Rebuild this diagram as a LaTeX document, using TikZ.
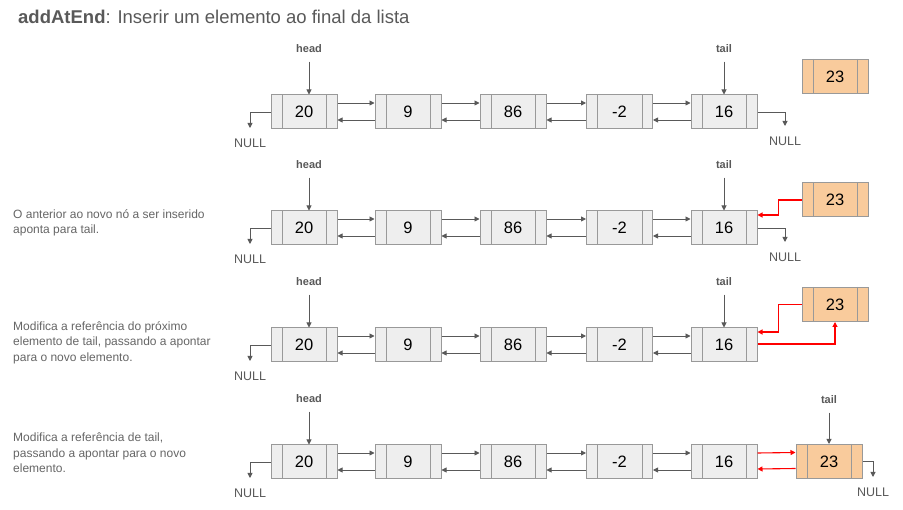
\documentclass[tikz,border=0pt]{standalone}
\usepackage{fontspec}
\setmainfont{Liberation Sans}
\usetikzlibrary{arrows.meta}
\definecolor{lg}{HTML}{EEEEEE}
\definecolor{bd}{HTML}{999999}
\definecolor{ar}{HTML}{595959}
\definecolor{org}{HTML}{F9CB9C}
\definecolor{tx}{HTML}{666666}
\newcommand\cellnode[5]{%
  \node[#5] (#1) at (#2,#3) {#4};
  \draw[divider] ([xshift=11.5pt]#1.north west) -- ([xshift=11.5pt]#1.south west)
    ([xshift=-11pt]#1.north east) -- ([xshift=-11pt]#1.south east);
}
\begin{document}
\begin{tikzpicture}[x=1pt,y=-1pt,
  cell/.style={draw=bd, line width=1pt, fill=lg, minimum width=66pt, minimum height=34pt, inner sep=0pt, font=\fontsize{16.5}{18}\selectfont},
  newcell/.style={cell, fill=org},
  divider/.style={draw=bd, line width=1pt},
  arr/.style={draw=ar, line width=0.9pt, -{Triangle[length=5pt,width=5pt]}},
  redarr/.style={draw=red, line width=1.1pt, -{Triangle[length=5pt,width=5pt]}},
  ptr/.style={font=\bfseries\fontsize{11}{13}\selectfont, text=ar},
  nul/.style={font=\fontsize{12.5}{14}\selectfont, text=ar},
  desc/.style={font=\fontsize{12}{15.5}\selectfont, text=tx, anchor=north west, align=left, inner sep=0pt}
]
\useasboundingbox[fill=white] (0,0) rectangle (903,510);

% title
\node[anchor=west, inner sep=0pt, text=ar, font=\fontsize{18.5}{20}\selectfont] (title) at (18,17) {\textbf{addAtEnd}: Inserir um elemento ao final da lista};

% ---------- rows ----------
\foreach \r/\y in {1/112, 2/228, 3/345, 4/462}{
  \cellnode{a\r}{304}{\y}{20}{cell}
  \cellnode{b\r}{408}{\y}{9}{cell}
  \cellnode{c\r}{513}{\y}{86}{cell}
  \cellnode{d\r}{619.5}{\y}{-2}{cell}
  \cellnode{e\r}{724}{\y}{16}{cell}
  \foreach \p/\q in {a/b, b/c, c/d, d/e}{
    \draw[arr] ([yshift=9pt]\p\r.east) -- ([yshift=9pt]\q\r.west);
    \draw[arr] ([yshift=-8pt]\q\r.west) -- ([yshift=-8pt]\p\r.east);
  }
  \node[ptr] (h\r) at (309,\y-63) {head};
  \draw[arr] ([yshift=-5pt]h\r.south) -- (h\r |- a\r.north);
  \node[nul] (nl\r) at (250,\y+31) {NULL};
  \coordinate (nlc\r) at (250,\y+16);
  \draw[arr] (a\r.west) -| (nlc\r);
}

% tail pointers rows 1-3
\foreach \r/\y in {1/112, 2/228, 3/345}{
  \node[ptr] (t\r) at (724,\y-63) {tail};
  \draw[arr] ([yshift=-5pt]t\r.south) -- (e\r.north);
}

% right NULLs rows 1-2
\foreach \r/\y in {1/112, 2/228}{
  \node[nul] (nr\r) at (785,\y+29) {NULL};
  \coordinate (nrc\r) at (785,\y+14);
  \draw[arr] (e\r.east) -| (nrc\r);
}

% new nodes
\cellnode{n1}{835}{76.5}{23}{newcell}
\cellnode{n2}{835}{200}{23}{newcell}
\cellnode{n3}{835}{304.5}{23}{newcell}
\cellnode{n4}{829}{461.5}{23}{newcell}

% row 2 red
\draw[redarr] (n2.west) -- ++(-23,0) |- ([yshift=13pt]e2.east);
% row 3 red
\draw[redarr] (n3.west) -- ++(-23,0) |- ([yshift=13pt]e3.east);
\draw[redarr] ([yshift=1pt]e3.east) -| (n3.south);
% row 4 red
\draw[redarr] ([yshift=9pt]e4.east) -- ([yshift=9pt]n4.west);
\draw[redarr] ([yshift=-7pt]n4.west) -- ([yshift=-7pt]e4.east);
\node[ptr] (t4) at (829,400) {tail};
\draw[arr] ([yshift=-5pt]t4.south) -- (n4.north);
\node[nul] (nr4) at (873,492) {NULL};
\coordinate (nrc4) at (873,477);
\draw[arr] (n4.east) -| (nrc4);

% descriptions
\node[desc] (d2txt) at (13,209) {O anterior ao novo nó a ser inserido\\aponta para tail.};
\node[desc] (d3txt) at (13,321) {Modifica a referência do próximo\\elemento de tail, passando a apontar\\para o novo elemento.};
\node[desc] (d4txt) at (13,433) {Modifica a referência de tail,\\passando a apontar para o novo\\elemento.};
\end{tikzpicture}
\end{document}
